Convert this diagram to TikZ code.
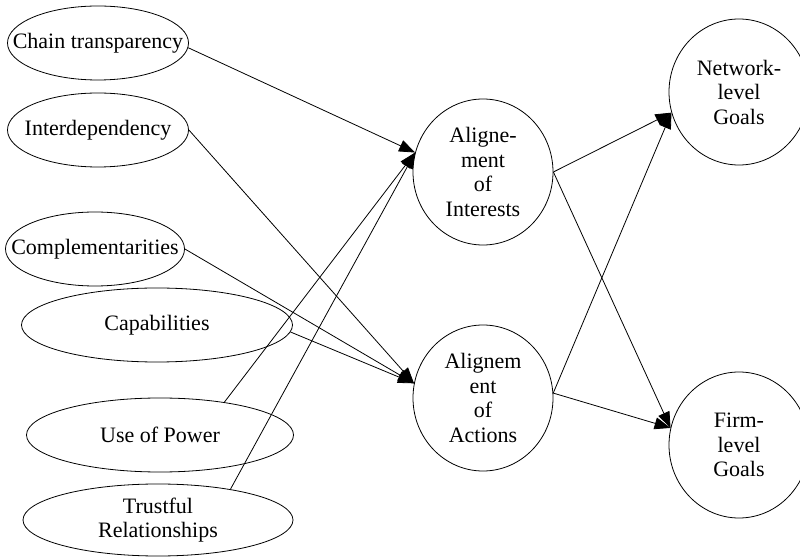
\documentclass[tikz,border=0pt]{standalone}
\usepackage{fontspec}
\setmainfont{Liberation Serif}
\usetikzlibrary{shapes.geometric,arrows.meta}
\begin{document}
\begin{tikzpicture}[x=1pt,y=1pt,
  every node/.style={font=\fontsize{22}{24.5}\selectfont},
  oval/.style={draw,ellipse,inner sep=0pt,minimum height=74pt},
  goal/.style={draw,ellipse,inner sep=0pt,align=center,minimum width=140pt,minimum height=146pt},
  link/.style={-{Triangle[length=16pt,width=12pt]}}]
\pgfsetlinewidth{.8pt}
\useasboundingbox (0,0) rectangle (800,557);
%
% factores
\node[oval,minimum width=181pt,label=center:Chain transparency] (chain) at (98,514) {};
\node[oval,minimum width=181pt,label=center:Interdependency] (interdep) at (98,427) {};
\node[oval,minimum width=179pt,label=center:Complementarities] (compl) at (95,308) {};
\node[oval,minimum width=271pt,label=center:Capabilities] (capab) at (157,232) {};
\node[oval,minimum width=267pt,label=center:Use of Power] (power) at (160,122) {};
\node[oval,minimum width=270pt,minimum height=72pt,
  label={[align=center]center:Trustful\\Relationships}] (trust) at (158,37) {};
%
\node[goal] (interests) at (483,385) {Aligne-\\ment\\of\\Interests};
\node[goal] (actions) at (483,159) {Alignem\\ent\\of\\Actions};
\node[goal] (network) at (739,465) {Network-\\level\\Goals};
\node[goal] (firm) at (739,112) {Firm-\\level\\Goals};
%
\foreach \from/\to in {chain.-3/interests.164,power.27/interests.164,trust.23/interests.164,%
interdep.east/actions.168,compl.east/actions.168,capab.-3/actions.168,%
interests.east/network.197,actions.4/network.197,%
interests.east/firm.166,actions.4/firm.166}
\draw[link] (\from) -- (\to);
\end{tikzpicture}
\end{document}
